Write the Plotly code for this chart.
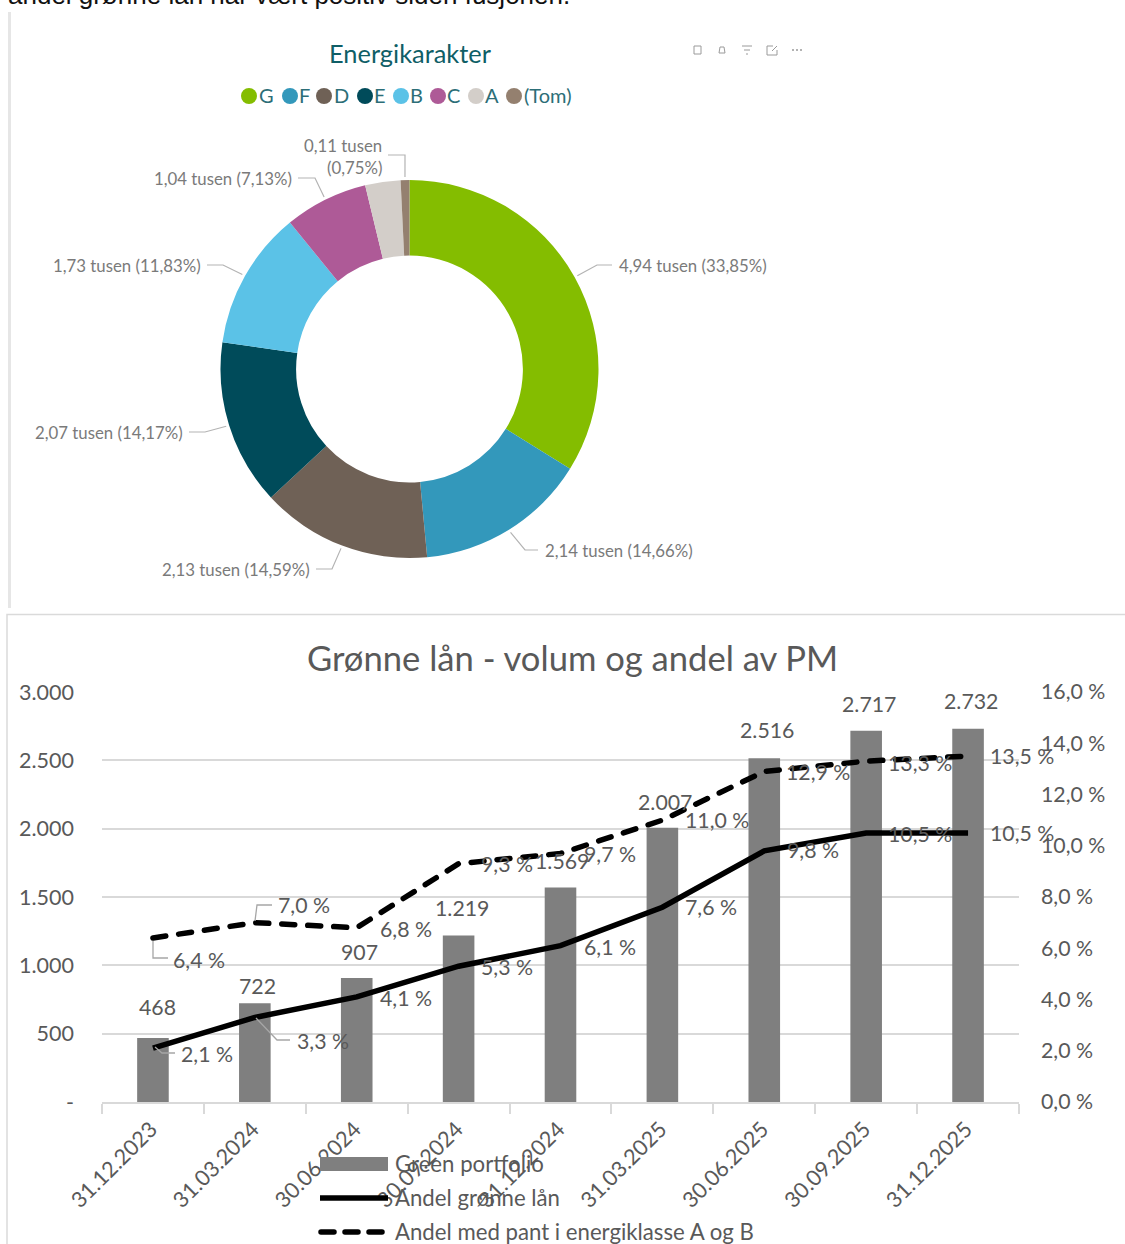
import math
import plotly.graph_objects as go

W, H = 1125, 1244

# ---- data ----
grades = ["G", "F", "D", "E", "B", "C", "A", "(Tom)"]
grade_pct = [33.85, 14.66, 14.59, 14.17, 11.83, 7.13, 3.02, 0.75]
grade_colors = ["#84BD00", "#3398BB", "#6F6156", "#004B5A", "#5BC2E7", "#AE5A97", "#D3CEC9", "#94806F"]
dates = ["31.12.2023", "31.03.2024", "30.06.2024", "30.09.2024", "31.12.2024",
         "31.03.2025", "30.06.2025", "30.09.2025", "31.12.2025"]
green_portfolio = [468, 722, 907, 1219, 1569, 2007, 2516, 2717, 2732]
green_labels = ["468", "722", "907", "1.219", "1.569", "2.007", "2.516", "2.717", "2.732"]
share_green = [2.1, 3.3, 4.1, 5.3, 6.1, 7.6, 9.8, 10.5, 10.5]
share_ab = [6.4, 7.0, 6.8, 9.3, 9.7, 11.0, 12.9, 13.3, 13.5]
left_ticks = [0, 500, 1000, 1500, 2000, 2500, 3000]
left_ticktext = ["-", "500", "1.000", "1.500", "2.000", "2.500", "3.000"]
right_ticks = [0, 2, 4, 6, 8, 10, 12, 14, 16]
right_ticktext = ["0,0 %", "2,0 %", "4,0 %", "6,0 %", "8,0 %", "10,0 %", "12,0 %", "14,0 %", "16,0 %"]


def fx(x):
    return x / W


def fy(y):
    return 1 - y / H


FONT = "Lato"
PIE_FONT = "Lato"
TXT = "#595959"
GRID = "#D9D9D9"
shapes, ann = [], []


def text(x, y, s, size, color=TXT, anchor="center", family=FONT):
    ann.append(dict(x=fx(x), y=fy(y), xref="paper", yref="paper", text=s, showarrow=False,
                    xanchor=anchor, yanchor="middle", font=dict(size=size, color=color, family=family)))


def seg(pts, color, width=1.5, layer="above"):
    path = "M" + " L".join(f"{fx(a)},{fy(b)}" for a, b in pts)
    shapes.append(dict(type="path", path=path, xref="paper", yref="paper", layer=layer,
                       line=dict(color=color, width=width)))


fig = go.Figure()

# ---- doughnut ----
CX, CY, R = 409.5, 369, 189
fig.add_trace(go.Pie(labels=grades, values=grade_pct, hole=0.6, sort=False, direction="clockwise", rotation=0,
                     marker=dict(colors=grade_colors, line=dict(width=0)), textinfo="none", showlegend=False,
                     domain=dict(x=[fx(CX - R), fx(CX + R)], y=[fy(CY + R), fy(CY - R)])))

# label text per slice, then elbow/end of the leader and label placement in pixels
pie_layout = {
    "G": (["4,94 tusen (33,85%)"], (597, 265), (612, 265), "left"),
    "F": (["2,14 tusen (14,66%)"], (525, 550), (538, 550), "left"),
    "D": (["2,13 tusen (14,59%)"], (332, 569), (316, 569), "right"),
    "E": (["2,07 tusen (14,17%)"], (205, 432), (189, 432), "right"),
    "B": (["1,73 tusen (11,83%)"], (223, 265), (207, 265), "right"),
    "C": (["1,04 tusen (7,13%)"], (315, 178), (298, 178), "right"),
    "(Tom)": (["0,11 tusen", "(0,75%)"], (405, 155), (388, 155), "right"),
}
cum = 0
total = sum(grade_pct)
for g, p in zip(grades, grade_pct):
    mid = (cum + p / 2) / total * 2 * math.pi
    cum += p
    if g not in pie_layout:
        continue
    lines, elbow, end, side = pie_layout[g]
    start = (CX + (R + 3) * math.sin(mid), CY - (R + 3) * math.cos(mid))
    seg([start, elbow, end], "#B3B3B3", 1.2)
    lx = end[0] + 5 if side == "left" else end[0] - 4.5
    if len(lines) == 1:
        text(lx, end[1] + 0.5, lines[0], 16.8, "#7A7A7A", side, PIE_FONT)
    else:
        text(lx, end[1] - 10, lines[0], 16.8, "#7A7A7A", side, PIE_FONT)
        text(lx, end[1] + 13, lines[1], 16.8, "#7A7A7A", side, PIE_FONT)

text(410, 53, "Energikarakter", 25.4, "#0F5E66", family=PIE_FONT)

# pie legend
leg_x = [249, 290, 324, 365, 401, 438, 476, 514]
txt_x = [257, 297, 332, 372, 408, 445, 483, 522]
for g, c, mx, tx in zip(grades, grade_colors, leg_x, txt_x):
    shapes.append(dict(type="circle", xref="paper", yref="paper", x0=fx(mx - 8), x1=fx(mx + 8),
                       y0=fy(96 + 8), y1=fy(96 - 8), fillcolor=c, line=dict(width=0)))
    text(tx, 95, g, 20, "#2C6E77", "left", PIE_FONT)

# toolbar icons
ICON = "#9A9A9A"
seg([(694, 46), (701, 46), (701, 54), (694, 54), (694, 46)], ICON, 1)
seg([(719, 53), (725, 53), (724, 47), (720, 47), (719, 53)], ICON, 1)
seg([(742, 46), (752, 46)], ICON, 1)
seg([(744, 50), (750, 50)], ICON, 1)
seg([(746, 54), (748, 54)], ICON, 1)
seg([(773, 46), (767, 46), (767, 55), (777, 55), (777, 50)], ICON, 1)
seg([(772, 51), (777, 46)], ICON, 1)
seg([(792, 50), (794, 50)], ICON, 1.5)
seg([(796, 50), (798, 50)], ICON, 1.5)
seg([(800, 50), (802, 50)], ICON, 1.5)

# frames and cropped sentence above the charts
seg([(9.5, 12), (9.5, 608)], "#E6E6E6", 3)
seg([(7, 1244), (7, 614.5), (1125, 614.5)], "#DADADA", 1.5)
text(6, -5.5, "andel grønne lån har vært positiv siden fusjonen.", 26, "#111111", "left", "Liberation Sans")

# ---- combo chart ----
fig.add_trace(go.Bar(x=dates, y=green_portfolio, name="Green portfolio", marker=dict(color="#7F7F7F", line=dict(width=0)),
                     xaxis="x", yaxis="y", showlegend=False))
fig.add_trace(go.Scatter(x=dates, y=share_green, name="Andel grønne lån", mode="lines",
                         line=dict(color="#000000", width=5.5), xaxis="x", yaxis="y2", showlegend=False))
fig.add_trace(go.Scatter(x=dates, y=share_ab, name="Andel med pant i energiklasse A og B", mode="lines",
                         line=dict(color="#000000", width=5.5, dash="13px,13px"), xaxis="x", yaxis="y2", showlegend=False))


def dlabel(xv, yv, s, yref, dx, dy):
    ann.append(dict(x=xv, y=yv, xref="x", yref=yref, text=s, showarrow=False, xanchor="center", yanchor="middle",
                    xshift=dx, yshift=dy, font=dict(size=21.3, color=TXT, family=FONT)))


bar_dx = [5, 3, 3, 3, 1, 3, 3, 3, 3]
bar_dy = [31, 17, 26, 27, 27, 26, 28, 27, 28]
for d, v, s, dx, dy in zip(dates, green_portfolio, green_labels, bar_dx, bar_dy):
    dlabel(d, v, s, "y", dx, dy)


def pct(v):
    return f"{v:.1f}".replace(".", ",") + " %"


green_off = [(54, -6), (68, -24), (49, -1), (48, -1), (49, -1), (49, 0), (49, 1), (54, -1), (54, 0)]
ab_off = [(46, -22), (49, 18), (49, -1), (48, 0), (49, -1), (55, 0), (54, -1), (54, -2), (54, 0)]
for d, v, o in zip(dates, share_green, green_off):
    dlabel(d, v, pct(v), "y2", o[0], o[1])
for d, v, o in zip(dates, share_ab, ab_off):
    dlabel(d, v, pct(v), "y2", o[0], o[1])

# leader lines of the moved data labels
LEAD = "#A6A6A6"
seg([(155, 1047), (162, 1053), (175, 1053)], LEAD, 1.3)
seg([(256, 1018), (277, 1040), (290, 1040)], LEAD, 1.3)
seg([(153, 941), (153, 958), (168, 958)], LEAD, 1.3)
seg([(255, 921), (257, 905), (272, 905)], LEAD, 1.3)

text(572, 657, "Grønne lån - volum og andel av PM", 34.6)

# combo legend
shapes.append(dict(type="rect", xref="paper", yref="paper", x0=fx(320), x1=fx(388), y0=fy(1171), y1=fy(1157),
                   fillcolor="#7F7F7F", line=dict(width=0)))
seg([(320, 1198), (388, 1198)], "#000000", 5.5)
shapes.append(dict(type="line", xref="paper", yref="paper", x0=fx(321), x1=fx(384), y0=fy(1232), y1=fy(1232),
                   line=dict(color="#000000", width=5.5, dash="13px,11px")))
text(393, 1163, "Green portfolio", 22.2, anchor="left")
text(393, 1197, "Andel grønne lån", 22.2, anchor="left")
text(393, 1231, "Andel med pant i energiklasse A og B", 22.2, anchor="left")

fig.update_layout(
    width=W, height=H, margin=dict(l=0, r=0, t=0, b=0), autosize=False,
    paper_bgcolor="white", plot_bgcolor="white", showlegend=False, bargap=0.69,
    font=dict(family=FONT, color=TXT),
    shapes=shapes, annotations=ann,
    xaxis=dict(domain=[fx(102), fx(1019)], type="category", categoryorder="array", categoryarray=dates,
               range=[-0.5, 8.5],
               anchor="y", showline=True, linecolor=GRID, linewidth=2, showgrid=False, automargin=False,
               ticks="outside", tickson="boundaries", ticklen=10, tickcolor=GRID, tickwidth=2,
               ticklabelstandoff=4, ticklabelshift=-2,
               tickangle=-45, tickfont=dict(size=21.7, color=TXT, family=FONT)),
    yaxis=dict(domain=[fy(1102), fy(692)], range=[0, 3000], tickvals=left_ticks, ticktext=left_ticktext,
               showgrid=True, gridcolor=GRID, gridwidth=2, zeroline=False, showline=False, automargin=False,
               ticklabelstandoff=27, tickfont=dict(size=21.5, color=TXT, family=FONT)),
    yaxis2=dict(domain=[fy(1102), fy(692)], range=[0, 16], tickvals=right_ticks, ticktext=right_ticktext,
                overlaying="y", side="right", anchor="x", showgrid=False, zeroline=False, showline=False, automargin=False,
                ticklabelstandoff=21, tickfont=dict(size=21.3, color=TXT, family=FONT)),
)

post = """
document.body.style.margin='0';document.body.style.overflow='hidden';
document.querySelectorAll('.scatterlayer path.js-line, .shapelayer path').forEach(function(p){
  var d=p.style.strokeDasharray; if(d && d!=='none'){p.style.strokeLinecap='round';}
});
"""
fig.write_html("out.html", config=dict(displayModeBar=False), post_script=post)
